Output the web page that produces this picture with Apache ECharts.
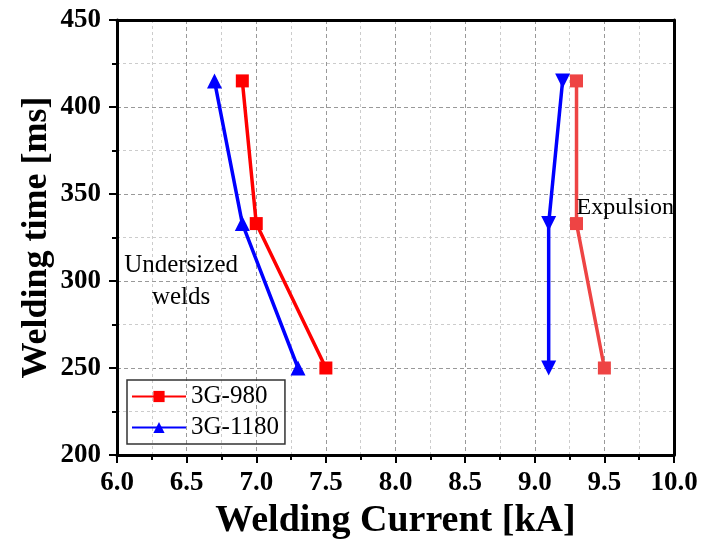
<!DOCTYPE html>
<html>
<head>
<meta charset="utf-8">
<script src="https://cdn.jsdelivr.net/npm/echarts@6/dist/echarts.min.js"></script>
<style>
  html, body { margin: 0; padding: 0; background: #fff; }
  #chart { width: 704px; height: 544px; }
</style>
</head>
<body>
<div id="chart"></div>
<script>
// welding time levels (ms)
const weldTime = [415, 333, 250]

// lower bound (undersized welds) currents, kA
const low980 = [6.9, 7.0, 7.5]
const low1180 = [6.7, 6.9, 7.3]

// upper bound (expulsion) currents, kA
const high980 = [9.3, 9.3, 9.5]
const high1180 = [9.2, 9.1, 9.1]

const xTicks = { min: 6.0, max: 10.0, step: 0.5 }
const yTicks = { min: 200, max: 450, step: 50 }

const serif = '"Liberation Serif", "Times New Roman", serif'

function pairs(xs) {
  return xs.map((x, i) => [x, weldTime[i]])
}

const chartDom = document.getElementById('chart')
const myChart = echarts.init(chartDom)

const axisCommon = {
  nameMoveOverlap: false,
  axisLine: { show: true, onZero: false, lineStyle: { color: '#000', width: 3 } },
  axisTick: { show: true, inside: false, length: 8, lineStyle: { color: '#000', width: 2 } },
  minorTick: { show: true, splitNumber: 2, length: 5, lineStyle: { color: '#000', width: 2 } },
  splitLine: { show: true, lineStyle: { color: '#999', type: [4, 3], width: 1 } },
  minorSplitLine: { show: true, lineStyle: { color: '#ccc', type: [3, 3], width: 1 } }
}

const frame = {
  axisLine: { show: true, onZero: false, lineStyle: { color: '#000', width: 3 } },
  axisTick: { show: false },
  axisLabel: { show: false },
  splitLine: { show: false }
}

const option = {
  animation: false,
  backgroundColor: '#fff',
  grid: { left: 117, right: 30, top: 20, bottom: 89, containLabel: false, outerBoundsMode: 'none' },
  legend: {
    left: 127,
    top: 380,
    orient: 'vertical',
    itemWidth: 54,
    itemHeight: 14,
    itemGap: 4,
    padding: [3, 6, 3, 4],
    borderColor: '#333',
    borderWidth: 1.5,
    textStyle: { fontFamily: serif, fontSize: 25, lineHeight: 27, color: '#000' },
    data: ['3G-980', '3G-1180']
  },
  xAxis: [
    Object.assign({}, axisCommon, {
      type: 'value',
      min: xTicks.min,
      max: xTicks.max,
      interval: xTicks.step,
      name: 'Welding Current [kA]',
      nameLocation: 'middle',
      nameGap: 47,
      nameTextStyle: { fontFamily: serif, fontSize: 38, fontWeight: 'bold', color: '#000' },
      axisLabel: {
        margin: 15,
        fontFamily: serif, fontSize: 27, fontWeight: 'bold', color: '#000',
        formatter: (v) => v.toFixed(1)
      }
    }),
    Object.assign({}, frame, {
      type: 'value', position: 'top', min: xTicks.min, max: xTicks.max
    })
  ],
  yAxis: [
    Object.assign({}, axisCommon, {
      type: 'value',
      min: yTicks.min,
      max: yTicks.max,
      interval: yTicks.step,
      name: 'Welding time [ms]',
      nameLocation: 'middle',
      nameGap: 62,
      nameTextStyle: { fontFamily: serif, fontSize: 36, fontWeight: 'bold', color: '#000' },
      axisLabel: {
        margin: 16,
        fontFamily: serif, fontSize: 27, fontWeight: 'bold', color: '#000'
      }
    }),
    Object.assign({}, frame, {
      type: 'value', position: 'right', min: yTicks.min, max: yTicks.max
    })
  ],
  series: [
    {
      name: '3G-980',
      type: 'line',
      data: pairs(low980),
      symbol: 'rect',
      symbolSize: 13,
      lineStyle: { color: '#ff0000', width: 3.5 },
      itemStyle: { color: '#ff0000' },
      z: 3
    },
    {
      name: '3G-1180',
      type: 'line',
      data: pairs(low1180),
      symbol: 'triangle',
      symbolSize: 15,
      lineStyle: { color: '#0000ff', width: 3.5 },
      itemStyle: { color: '#0000ff' },
      z: 3
    },
    {
      name: '3G-980',
      type: 'line',
      data: pairs(high980),
      symbol: 'rect',
      symbolSize: 13,
      lineStyle: { color: '#ee4444', width: 3.5 },
      itemStyle: { color: '#ee4444' },
      z: 3
    },
    {
      name: '3G-1180',
      type: 'line',
      data: pairs(high1180),
      symbol: 'triangle',
      symbolRotate: 180,
      symbolSize: 15,
      lineStyle: { color: '#0000ff', width: 3.5 },
      itemStyle: { color: '#0000ff' },
      z: 3
    }
  ]
}

myChart.setOption(option)

// text annotations placed at data coordinates
const undersized = myChart.convertToPixel({ gridIndex: 0 }, [6.46, 300])
const expulsion = myChart.convertToPixel({ gridIndex: 0 }, [9.65, 342])
myChart.setOption({
  graphic: [
    {
      type: 'text',
      x: undersized[0],
      y: undersized[1],
      style: {
        text: 'Undersized\nwelds',
        fontFamily: serif, fontSize: 25, lineHeight: 32,
        fill: '#000', align: 'center', verticalAlign: 'middle'
      },
      z: 10
    },
    {
      type: 'text',
      x: expulsion[0],
      y: expulsion[1],
      style: {
        text: 'Expulsion',
        fontFamily: serif, fontSize: 24,
        fill: '#000', align: 'center', verticalAlign: 'middle'
      },
      z: 10
    }
  ]
})
</script>
</body>
</html>
